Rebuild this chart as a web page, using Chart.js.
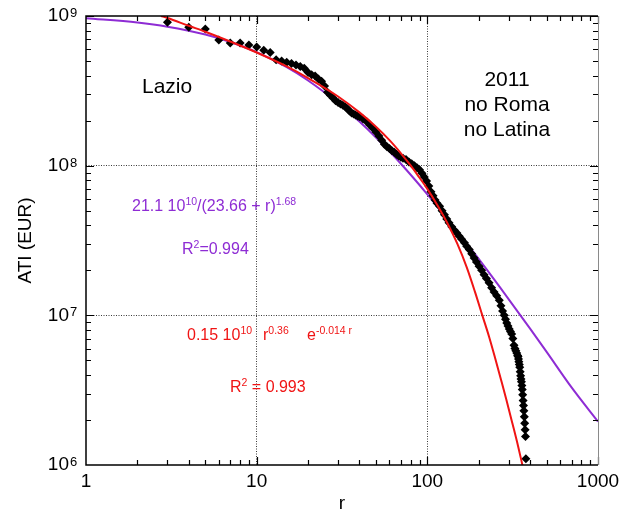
<!DOCTYPE html>
<html>
<head>
<meta charset="utf-8">
<script src="https://cdn.jsdelivr.net/npm/chart.js@4.4.1/dist/chart.umd.min.js"></script>
<style>
  html, body { margin: 0; padding: 0; background: #fff; }
  #wrap { width: 625px; height: 516px; }
</style>
</head>
<body>
<div id="wrap"><canvas id="rank-chart" width="625" height="516"></canvas></div>
<script>
/* ========================================
   Lazio 2011 — ATI rank-size plot (log-log)
   ======================================== */

// ranks of the municipalities (no Roma, no Latina) and their ATI in EUR
const ranks = [3, 4, 5, 6, 7, 8, 9, 10, 11, 12, 13, 14, 15, 16, 17, 18, 19, 20, 21, 22, 23, 24, 25, 26, 27, 28, 29, 30,
    31, 32, 33, 34, 35, 36, 37, 38, 39, 40, 42, 44, 46, 48, 50, 52, 54, 56, 58, 60, 62, 64, 66, 68, 70, 72, 75, 78, 81,
    84, 87, 90, 93, 96, 99, 102, 105, 108, 111, 114, 118, 122, 126, 130, 134, 139, 144, 149, 154, 159, 165, 170, 176,
    182, 188, 194, 201, 208, 215, 222, 230, 238, 246, 255, 264, 270, 276, 282, 287, 292, 297, 302, 307, 312, 317, 322,
    326, 330, 334, 338, 340, 342, 344, 346, 348, 350, 352, 354, 356, 358, 360, 362, 364, 366, 368, 370, 372, 374, 376, 378];
const atiValues = [9.1e8, 8.4e8, 8.2e8, 6.9e8, 6.6e8, 6.6e8, 6.4e8, 6.2e8, 5.9e8, 5.7e8, 5.1e8, 5.0e8, 4.9e8, 4.82e8,
    4.71e8, 4.6e8, 4.48e8, 4.2e8, 4.05e8, 3.97e8, 3.8e8, 3.67e8, 3.4e8, 3.1e8, 2.95e8, 2.83e8, 2.72e8, 2.64e8, 2.58e8,
    2.53e8, 2.48e8, 2.4e8, 2.32e8, 2.25e8, 2.21e8, 2.18e8, 2.15e8, 2.12e8, 2.05e8, 1.97e8, 1.87e8, 1.78e8, 1.68e8, 1.58e8,
    1.48e8, 1.39e8, 1.34e8, 1.3e8, 1.26e8, 1.23e8, 1.19e8, 1.16e8, 1.14e8, 1.12e8, 1.1e8, 1.06e8, 1.03e8, 1.0e8, 9.7e7,
    9.4e7, 8.9e7, 8.4e7, 7.9e7, 7.3e7, 6.7e7, 6.3e7, 5.9e7, 5.6e7, 5.35e7, 5.0e7, 4.7e7, 4.4e7, 4.15e7, 3.9e7, 3.7e7,
    3.55e7, 3.38e7, 3.22e7, 3.05e7, 2.9e7, 2.75e7, 2.58e7, 2.42e7, 2.27e7, 2.13e7, 2.0e7, 1.87e7, 1.76e7, 1.65e7, 1.53e7,
    1.43e7, 1.35e7, 1.26e7, 1.16e7, 1.07e7, 1.0e7, 9.4e6, 8.9e6, 8.5e6, 8.1e6, 7.8e6, 7.5e6, 7.0e6, 6.3e6, 6.0e6, 5.8e6,
    5.6e6, 5.4e6, 5.3e6, 5.1e6, 4.9e6, 4.7e6, 4.5e6, 4.2e6, 3.95e6, 3.75e6, 3.6e6, 3.4e6, 3.2e6, 2.95e6, 2.7e6, 2.5e6,
    2.3e6, 2.1e6, 1.9e6, 1.72e6, 1.55e6, 1.1e6];

// purple fit: 21.1 10^10/(23.66 + r)^1.68
const powerFitR = [1, 2, 3, 5, 7, 10, 15, 20, 30, 40, 50, 70, 100, 150, 200, 300, 400, 500, 700, 1000];
const powerFitV = [9.67e8, 9.05e8, 8.49e8, 7.52e8, 6.71e8, 5.74e8, 4.55e8, 3.71e8, 2.62e8, 1.97e8, 1.54e8, 1.03e8,
    6.44e7, 3.64e7, 2.38e7, 1.28e7, 8.15e6, 5.7e6, 3.3e6, 1.95e6];

// red fit: 0.15 10^10 r^-0.36 e^-0.014 r
const expFitR = [2.75, 3, 4, 5, 7, 10, 15, 20, 30, 40, 50, 60, 70, 80, 90, 100, 115, 130, 150, 170, 190, 210, 230, 250,
    270, 290, 315, 340, 362, 375];
const expFitV = [1.0e9, 9.7e8, 8.6e8, 7.85e8, 6.75e8, 5.7e8, 4.6e8, 3.85e8, 2.9e8, 2.27e8, 1.82e8, 1.48e8, 1.21e8,
    1.0e8, 8.3e7, 7.0e7, 5.4e7, 4.2e7, 3.0e7, 2.1e7, 1.44e7, 1.0e7, 7.2e6, 5.15e6, 3.73e6, 2.75e6, 1.9e6, 1.34e6,
    9.8e5, 8.2e5];

const xTicks = [1, 10, 100, 1000];
const yTicks = [1e6, 1e7, 1e8, 1e9];
const yTickExponents = ['6', '7', '8', '9'];

const FONT = '"Liberation Sans", Arial, Helvetica, sans-serif';
const RED = '#f01414';
const PURPLE = '#8e2cd4';

const toPoints = (xs, ys) => xs.map((x, i) => ({ x, y: ys[i] }));

// text with superscript runs, left aligned on a baseline
function richText(ctx, x, y, runs, color) {
    ctx.fillStyle = color;
    ctx.textAlign = 'left';
    ctx.textBaseline = 'alphabetic';
    runs.forEach(([t, sup]) => {
        ctx.font = (sup ? '10.5px ' : '16px ') + FONT;
        ctx.fillText(t, x, sup ? y - 6.5 : y);
        x += ctx.measureText(t).width;
    });
}

const frameAndNotes = {
    id: 'frameAndNotes',
    afterDraw(chart) {
        const { ctx, chartArea: a, scales } = chart;
        const xs = scales.x, ys = scales.y;
        ctx.save();

        // inward ticks on all four sides
        ctx.strokeStyle = '#000';
        ctx.lineWidth = 1.2;
        ctx.beginPath();
        for (let d = 1; d < 1000; d *= 10) {
            for (let m = 2; m <= 10; m++) {
                const px = Math.round(xs.getPixelForValue(m * d)) + 0.5;
                const len = m === 10 ? 8 : 5;
                ctx.moveTo(px, a.bottom); ctx.lineTo(px, a.bottom - len);
                ctx.moveTo(px, a.top); ctx.lineTo(px, a.top + len);
            }
        }
        for (let d = 1e6; d < 1e9; d *= 10) {
            for (let m = 2; m <= 10; m++) {
                const py = Math.round(ys.getPixelForValue(m * d)) + 0.5;
                const len = m === 10 ? 8 : 5;
                ctx.moveTo(a.left, py); ctx.lineTo(a.left + len, py);
                ctx.moveTo(a.right, py); ctx.lineTo(a.right - len, py);
            }
        }
        ctx.stroke();

        // frame
        ctx.lineWidth = 1.5;
        ctx.beginPath();
        ctx.moveTo(a.right, a.top); ctx.lineTo(a.left, a.top);
        ctx.lineTo(a.left, a.bottom); ctx.lineTo(a.right, a.bottom);
        ctx.stroke();
        ctx.strokeStyle = '#8a8a8a';
        ctx.lineWidth = 1;
        ctx.beginPath();
        ctx.moveTo(a.right + 0.5, a.top); ctx.lineTo(a.right + 0.5, a.bottom);
        ctx.stroke();

        // exponents of the y tick labels
        ctx.fillStyle = '#000';
        ctx.font = '13px ' + FONT;
        ctx.textAlign = 'left';
        ctx.textBaseline = 'alphabetic';
        yTicks.forEach((v, i) => {
            ctx.fillText(yTickExponents[i], a.left - 16, ys.getPixelForValue(v) + 1);
        });

        // labels
        ctx.font = '21px ' + FONT;
        ctx.fillText('Lazio', 142, 93);
        ctx.textAlign = 'center';
        ctx.fillText('2011', 507, 86);
        ctx.fillText('no Roma', 507, 111);
        ctx.fillText('no Latina', 507, 136);

        richText(ctx, 132, 211, [['21.1 10'], ['10', 1], ['/(23.66 + r)'], ['1.68', 1]], PURPLE);
        richText(ctx, 182, 254, [['R'], ['2', 1], ['=0.994']], PURPLE);

        richText(ctx, 187, 340, [['0.15 10'], ['10', 1]], RED);
        richText(ctx, 263, 340, [['r'], ['0.36', 1]], RED);
        richText(ctx, 307, 340, [['e'], ['-0.014 r', 1]], RED);
        richText(ctx, 230, 392, [['R'], ['2', 1], [' = 0.993']], RED);

        ctx.restore();
    }
};

const gridColor = (ends) => (c) => (c.tick && ends.includes(c.tick.value) ? 'rgba(0,0,0,0)' : '#3a3a3a');

new Chart(document.getElementById('rank-chart').getContext('2d'), {
    type: 'scatter',
    data: {
        datasets: [
            {
                label: 'exp fit',
                data: toPoints(expFitR, expFitV),
                showLine: true,
                borderColor: RED,
                borderWidth: 2,
                pointRadius: 0,
                cubicInterpolationMode: 'monotone',
                order: 0
            },
            {
                label: 'ATI',
                data: toPoints(ranks, atiValues),
                showLine: false,
                pointStyle: 'rectRot',
                pointRadius: 4.5,
                backgroundColor: '#000',
                borderWidth: 0,
                order: 1
            },
            {
                label: 'power fit',
                data: toPoints(powerFitR, powerFitV),
                showLine: true,
                borderColor: PURPLE,
                borderWidth: 2,
                pointRadius: 0,
                cubicInterpolationMode: 'monotone',
                order: 2
            }
        ]
    },
    options: {
        responsive: false,
        animation: false,
        devicePixelRatio: 1,
        layout: { padding: { top: 16, right: 27, left: 0, bottom: 0 } },
        plugins: { legend: { display: false }, tooltip: { enabled: false } },
        scales: {
            x: {
                type: 'logarithmic',
                min: 1,
                max: 1000,
                afterBuildTicks: (s) => { s.ticks = xTicks.map(v => ({ value: v })); },
                afterFit: (s) => { s.height = 51; s.paddingLeft = 6; s.paddingRight = 20; },
                ticks: {
                    color: '#000',
                    font: { family: FONT, size: 19 },
                    padding: 5,
                    autoSkip: false,
                    maxRotation: 0,
                    callback: (v) => String(v)
                },
                grid: { color: gridColor([1, 1000]), lineWidth: 1, drawTicks: false },
                border: { display: false, dash: [1, 1.5] },
                title: {
                    display: true,
                    text: 'r',
                    color: '#000',
                    font: { family: FONT, size: 19 },
                    padding: { top: 0, bottom: 1 }
                }
            },
            y: {
                type: 'logarithmic',
                min: 1e6,
                max: 1e9,
                afterBuildTicks: (s) => { s.ticks = yTicks.map(v => ({ value: v })); },
                afterFit: (s) => { s.width = 86; s.paddingTop = 10; s.paddingBottom = 10; },
                ticks: {
                    color: '#000',
                    font: { family: FONT, size: 19 },
                    padding: 17,
                    autoSkip: false,
                    callback: () => '10'
                },
                grid: { color: gridColor([1e6, 1e9]), lineWidth: 1, drawTicks: false },
                border: { display: false, dash: [1, 1.5] },
                title: {
                    display: true,
                    text: 'ATI (EUR)',
                    color: '#000',
                    font: { family: FONT, size: 19 },
                    padding: { top: 14, bottom: 0 }
                }
            }
        }
    },
    plugins: [frameAndNotes]
});
</script>
</body>
</html>
